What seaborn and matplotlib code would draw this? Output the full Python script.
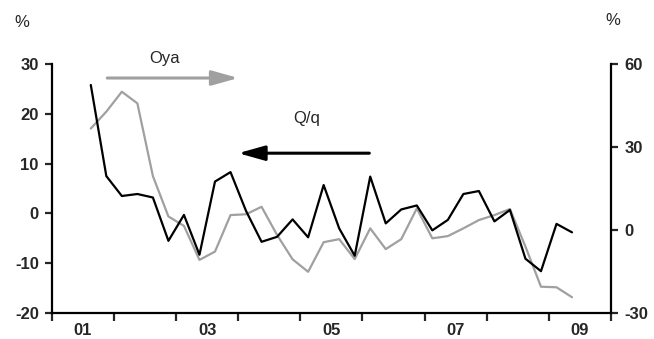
import numpy as np
import pandas as pd
import matplotlib
matplotlib.use("Agg")
import matplotlib.pyplot as plt
import seaborn as sns

# quarterly series, 2001Q3 .. 2009Q2
quarters = [f"{y}Q{q}" for y in range(2001, 2010) for q in range(1, 5)][2:34]

qoq = [25.8, 7.5, 3.5, 3.9, 3.2, -5.5, -0.3, -8.3, 6.4, 8.3, 0.5, -5.7,
       -4.7, -1.2, -4.8, 5.7, -3.0, -8.5, 7.4, -2.0, 0.8, 1.6, -3.4, -1.3,
       3.9, 4.5, -1.6, 0.7, -9.1, -11.6, -2.1, -3.8]
oya = [36.7, 42.8, 50.0, 45.8, 19.5, 4.9, 1.5, -10.8, -7.8, 5.4, 5.7, 8.4,
       -1.8, -10.6, -15.1, -4.4, -3.3, -10.5, 0.6, -6.9, -3.3, 7.8, -3.0, -2.2,
       0.6, 3.6, 5.4, 7.6, -6.0, -20.5, -20.7, -24.3]

year_labels = ["01", "03", "05", "07", "09"]
left_ticks = [30, 20, 10, 0, -10, -20]
right_ticks = [60, 30, 0, -30]

def to_x(q):
    y, n = q.split("Q")
    return int(y) + (int(n) - 0.5) / 4

df = pd.DataFrame({"x": [to_x(q) for q in quarters], "qoq": qoq, "oya": oya})

sns.set_style("white")
plt.rcParams["font.family"] = ["Liberation Sans Narrow", "Liberation Sans", "DejaVu Sans"]

fig = plt.figure(figsize=(6.54, 3.39), dpi=100)
ax = fig.add_axes([0.0795, 0.0767, 0.8545, 0.7343])
ax2 = ax.twinx()

sns.lineplot(data=df, x="x", y="qoq", ax=ax, color="black", linewidth=1.6, zorder=3)
sns.lineplot(data=df, x="x", y="oya", ax=ax2, color="#a0a0a0", linewidth=1.6, zorder=2)
ax.set_zorder(ax2.get_zorder() + 1)
ax.patch.set_visible(False)

ax.set_xlim(2001, 2010)
ax.set_ylim(-20, 30)
ax2.set_ylim(-30, 60)
ax.set_xlabel("")
ax.set_ylabel("")
ax2.set_ylabel("")

ax.set_xticks(np.arange(2001, 2011))
ax.set_xticklabels([])
ax.set_xticks([2001.5 + 2 * i for i in range(len(year_labels))], minor=True)
ax.set_xticklabels(year_labels, minor=True)
ax.tick_params(axis="x", which="major", direction="out", length=6, width=1.6, bottom=True)
ax.tick_params(axis="x", which="minor", length=0, pad=7, labelsize=12)

ax.set_yticks(left_ticks)
ax.set_yticklabels([str(t) for t in left_ticks])
ax.tick_params(axis="y", direction="out", length=5, width=1.6, left=True, labelsize=12, pad=4.5)
ax2.set_yticks(right_ticks)
ax2.set_yticklabels([str(t) for t in right_ticks])
ax2.tick_params(axis="y", direction="out", length=5, width=1.6, right=True, labelsize=12, pad=5)

for lab in ax.get_xticklabels(minor=True) + ax.get_yticklabels() + ax2.get_yticklabels():
    lab.set_fontweight("bold")

for a in (ax, ax2):
    for s in a.spines.values():
        s.set_linewidth(1.6)
        s.set_color("black")
    a.spines["top"].set_visible(False)
ax.spines["right"].set_visible(False)
ax2.spines["left"].set_visible(False)
ax2.spines["bottom"].set_visible(False)
ax.grid(False)
ax2.grid(False)

# direction arrows
ax.annotate("", xy=(2004.0, 27.2), xytext=(2001.89, 27.2), annotation_clip=False,
            arrowprops=dict(arrowstyle="-|>,head_length=1.6,head_width=0.45",
                            color="#a0a0a0", lw=2.2, shrinkA=0, shrinkB=0))
ax.text(2002.82, 31.2, "Oya", ha="center", va="center", fontsize=12, clip_on=False)
ax.annotate("", xy=(2004.0, 12.1), xytext=(2006.11, 12.1),
            arrowprops=dict(arrowstyle="-|>,head_length=1.6,head_width=0.45",
                            color="black", lw=2.2, shrinkA=0, shrinkB=0))
ax.text(2005.10, 19.0, "Q/q", ha="center", va="center", fontsize=12)

fig.text(0.034, 0.935, "%", ha="center", va="center", fontsize=12)
fig.text(0.937, 0.941, "%", ha="center", va="center", fontsize=12)

fig.savefig("out.png", dpi=100)
